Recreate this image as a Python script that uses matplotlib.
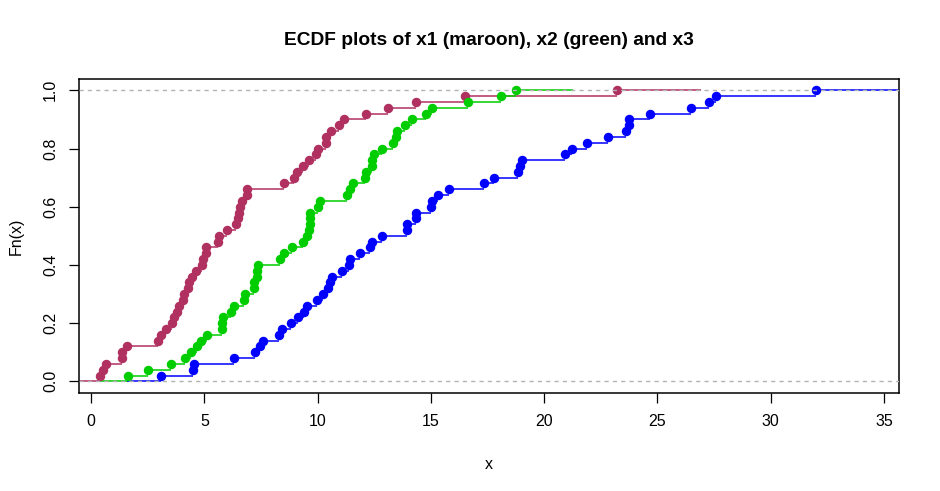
import numpy as np
import matplotlib
matplotlib.use("Agg")
import matplotlib.pyplot as plt

plt.rcParams["font.family"] = ["Liberation Sans", "DejaVu Sans"]

# sorted sample values (50 obs each)
x1 = [0.40, 0.53, 0.66, 1.34, 1.37, 1.56, 2.97, 3.09, 3.31, 3.57,
      3.66, 3.80, 3.86, 4.06, 4.08, 4.28, 4.34, 4.46, 4.61, 4.88,
      4.92, 5.06, 5.08, 5.60, 5.65, 6.00, 6.40, 6.47, 6.53, 6.58,
      6.66, 6.88, 6.90, 8.52, 8.96, 9.09, 9.36, 9.62, 9.93, 10.02,
      10.36, 10.38, 10.59, 10.94, 11.17, 12.14, 13.11, 14.34, 16.50, 23.21]
x2 = [1.63, 2.52, 3.53, 4.15, 4.41, 4.68, 4.85, 5.12, 5.77, 5.79,
      5.83, 6.18, 6.31, 6.75, 6.80, 7.18, 7.20, 7.32, 7.34, 7.37,
      8.34, 8.52, 8.87, 9.36, 9.53, 9.62, 9.65, 9.66, 9.67, 10.02,
      10.11, 11.30, 11.43, 11.56, 12.09, 12.14, 12.39, 12.41, 12.49, 12.84,
      13.33, 13.46, 13.50, 13.86, 14.17, 14.78, 15.05, 16.64, 18.09, 18.76]
x3 = [3.09, 4.50, 4.55, 6.30, 7.22, 7.46, 7.59, 8.30, 8.43, 8.83,
      9.14, 9.40, 9.53, 9.97, 10.24, 10.46, 10.55, 10.64, 11.08, 11.39,
      11.43, 11.87, 12.31, 12.40, 12.84, 13.94, 13.96, 14.33, 14.35, 15.00,
      15.05, 15.31, 15.80, 17.34, 17.78, 18.84, 18.93, 19.02, 20.92, 21.23,
      21.89, 22.82, 23.61, 23.73, 23.75, 24.67, 26.48, 27.27, 27.58, 31.99]

series = [(x1, "#B03060", -2.0, 3.7),
          (x2, "#00CD00", -1.3, 2.5),
          (x3, "#0000FF", -1.5, 5.0)]

fig = plt.figure(figsize=(9.4, 4.91), dpi=100)
ax = fig.add_axes([0.084, 0.1996, 0.872, 0.6401])

for vals, col, left_ext, right_ext in series:
    v = np.array(vals)
    n = len(v)
    fn = np.arange(1, n + 1) / n
    # steps between observations
    ax.hlines(fn[:-1], v[:-1], v[1:], colors=col, lw=1.1, zorder=2)
    # tails
    ax.hlines([0, 1], [v[0] + left_ext, v[-1]], [v[0], v[-1] + right_ext],
              colors=col, lw=1.1, zorder=2)
    ax.plot(v, fn, "o", color=col, ms=5.8, zorder=3)

ax.axhline(0, color="#B3B3B3", ls=(0, (3, 3)), lw=1, zorder=4)
ax.axhline(1, color="#B3B3B3", ls=(0, (3, 3)), lw=1, zorder=4)

ax.set_xlim(-0.54, 35.65)
ax.set_ylim(-0.04, 1.04)
ax.set_xticks(np.arange(0, 36, 5))
ax.set_yticks(np.arange(0, 1.01, 0.2))
ax.set_yticklabels(["0.0", "0.2", "0.4", "0.6", "0.8", "1.0"], rotation=90, va="center")
ax.tick_params(labelsize=11.5, length=7, width=0.9, pad=8)
for s in ax.spines.values():
    s.set_linewidth(1.1)

ax.set_xlabel("x", fontsize=11.5, labelpad=20)
ax.set_ylabel("Fn(x)", fontsize=11.5, labelpad=14)
ax.set_title("ECDF plots of x1 (maroon), x2 (green) and x3", fontsize=13.8,
             fontweight="bold", pad=24)

fig.savefig("out.png", dpi=100)
